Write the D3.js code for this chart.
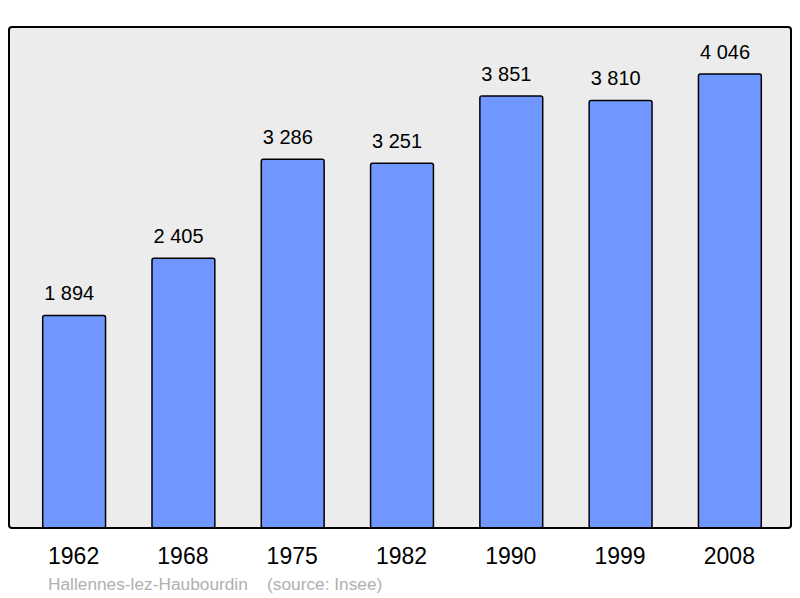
<!DOCTYPE html>
<html><head><meta charset="utf-8">
<script src="https://cdn.jsdelivr.net/npm/d3@7"></script>
<style>body{margin:0;background:#fff}svg{display:block}</style>
</head><body>
<svg id="c" width="800" height="598"></svg>
<script>
const years = ["1962","1968","1975","1982","1990","1999","2008"];
const population = [1894, 2405, 3286, 3251, 3851, 3810, 4046];
const valueLabels = ["1 894","2 405","3 286","3 251","3 851","3 810","4 046"];
const caption = "Hallennes-lez-Haubourdin    (source: Insee)";

const svg = d3.select("#c");
const frame = {x0: 9, y0: 27, x1: 791, y1: 528};
const x = d3.scaleBand().domain(years).range([11, 793]).paddingInner(0.425).paddingOuter(0.29);
const y = d3.scaleLinear().domain([0, 4465]).range([frame.y1, frame.y0]);

svg.append("rect").attr("x", frame.x0).attr("y", frame.y0)
  .attr("width", frame.x1 - frame.x0).attr("height", frame.y1 - frame.y0)
  .attr("rx", 3).attr("fill", "#ececec");

const g = svg.append("g");
years.forEach((yr, i) => {
  g.append("rect").attr("x", x(yr)).attr("y", y(population[i]))
    .attr("width", x.bandwidth()).attr("height", y(0) - y(population[i]))
    .attr("rx", 2).attr("fill", "#7097ff").attr("stroke", "#000").attr("stroke-width", 1.5);
  g.append("text").attr("x", x(yr) + 1.5).attr("y", y(population[i]) - 15)
    .attr("text-anchor", "start").attr("font-family", "Liberation Sans, Arial, sans-serif")
    .attr("font-size", 20).attr("fill", "#000").text(valueLabels[i]);
  g.append("text").attr("x", x(yr) + x.bandwidth()/2 - 0.5).attr("y", 564)
    .attr("text-anchor", "middle").attr("font-family", "Liberation Sans, Arial, sans-serif")
    .attr("font-size", 23).attr("fill", "#000").text(yr);
});

svg.append("rect").attr("x", frame.x0).attr("y", frame.y0)
  .attr("width", frame.x1 - frame.x0).attr("height", frame.y1 - frame.y0)
  .attr("rx", 3).attr("fill", "none").attr("stroke", "#000").attr("stroke-width", 2);

svg.append("text").attr("x", 48).attr("y", 590)
  .attr("font-family", "Liberation Sans, Arial, sans-serif").attr("font-size", 17.3)
  .attr("fill", "#b0b0b0").style("white-space", "pre").text(caption);
</script>
</body></html>
